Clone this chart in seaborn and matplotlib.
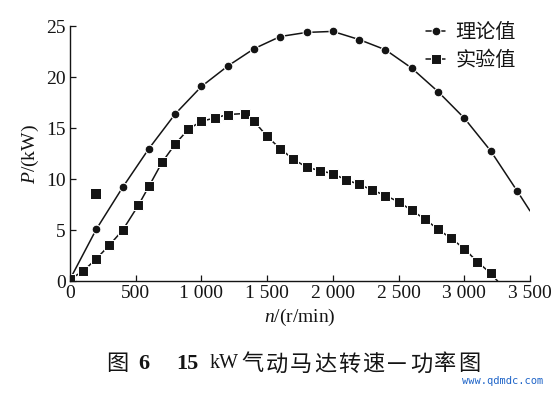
import matplotlib
matplotlib.use("Agg")
import matplotlib.pyplot as plt
import seaborn as sns

# theoretical power curve (last entry is the end of the drawn curve, no marker)
theory_rpm = [0, 200, 400, 600, 800, 1000, 1200, 1400, 1600, 1800, 2000, 2200, 2400, 2600, 2800, 3000, 3200, 3400, 3500]
theory_kw = [0.2, 5.1, 9.2, 13.0, 16.4, 19.1, 21.1, 22.8, 24.0, 24.4, 24.5, 23.7, 22.7, 20.9, 18.6, 16.0, 12.8, 8.9, 6.9]

# experimental power (last entry is the end of the drawn curve, no marker)
test_rpm = [0, 100, 200, 300, 400, 520, 600, 700, 800, 900, 1000, 1100, 1200, 1330, 1400, 1500, 1600, 1700,
            1800, 1900, 2000, 2100, 2200, 2300, 2400, 2500, 2600, 2700, 2800, 2900, 3000, 3100, 3200, 3255]
test_kw = [0.2, 1.0, 2.2, 3.55, 5.0, 7.45, 9.3, 11.65, 13.45, 14.9, 15.7, 16.0, 16.35, 16.45, 15.7, 14.2, 13.0, 11.95,
           11.2, 10.85, 10.55, 9.95, 9.5, 8.95, 8.4, 7.8, 6.95, 6.1, 5.1, 4.2, 3.2, 1.9, 0.8, 0.0]

# stray experimental point
stray_rpm = [200]
stray_kw = [8.6]

x_ticks = [0, 500, 1000, 1500, 2000, 2500, 3000, 3500]
x_labels = ["0", "500", "1 000", "1 500", "2 000", "2 500", "3 000", "3 500"]
y_ticks = [0, 5, 10, 15, 20, 25]

caption_cn = "气动马达转速—功率图"

sns.set_style("ticks")
plt.rcParams["font.family"] = ["Liberation Serif", "Noto Sans CJK SC"]
plt.rcParams["mathtext.fontset"] = "custom"
plt.rcParams["mathtext.rm"] = "Liberation Serif"
plt.rcParams["mathtext.it"] = "Liberation Serif:italic"

ink = "#141414"
W, H = 556, 397
fig = plt.figure(figsize=(W / 100, H / 100), dpi=100)
ax = fig.add_axes([70 / W, 1 - 281.3 / H, 460 / W, 255 / H])

sns.lineplot(x=theory_rpm, y=theory_kw, ax=ax, color=ink, lw=1.1, marker="o", ms=6.3,
             markevery=slice(0, len(theory_rpm) - 1), label="理论值", sort=False)
sns.lineplot(x=test_rpm, y=test_kw, ax=ax, color=ink, lw=1.1, marker="s", ms=6.5,
             markevery=slice(0, len(test_rpm) - 1), label="实验值", sort=False)
sns.scatterplot(x=stray_rpm, y=stray_kw, ax=ax, color=ink, marker="s", s=44, linewidth=0)

ax.set_xlim(0, 3500)
ax.set_ylim(0, 25)
ax.set_xticks(x_ticks)
ax.set_xticklabels(x_labels)
ax.set_yticks(y_ticks)
ax.tick_params(direction="in", length=4, width=0.9, labelsize=14, colors=ink, pad=3)
for side in ["left", "bottom"]:
    ax.spines[side].set_color(ink)
    ax.spines[side].set_linewidth(1.0)
sns.despine(ax=ax)

ax.set_xlabel("$n$/(r/min)", fontsize=14, color=ink, labelpad=3)
ax.set_ylabel("$P$/(kW)", fontsize=14, color=ink, labelpad=4)

leg = ax.legend(loc="upper left", bbox_to_anchor=(0.774, 1.015), frameon=False,
                handlelength=0.95, handletextpad=0.5, labelspacing=0.32, borderpad=0, borderaxespad=0,
                prop={"family": ["Noto Sans CJK SC"], "size": 14.5})
for t in leg.get_texts():
    t.set_color(ink)

# caption
cy = 1 - 364 / H
fig.text(106 / W, cy, "图", family=["Noto Sans CJK SC"], fontsize=16, color=ink, va="center")
fig.text(138 / W, cy, "6", fontsize=16, fontweight="bold", color=ink, va="center")
fig.text(176 / W, cy, "15", fontsize=16, fontweight="bold", color=ink, va="center")
fig.text(210 / W, cy, "kW", fontsize=14.5, color=ink, va="center")
for i, ch in enumerate(caption_cn):
    fig.text((253 + 24 * i) / W, cy, ch, family=["Noto Sans CJK SC"], fontsize=16, color=ink,
             va="center", ha="center")
fig.text(462 / W, 1 - 381 / H, "www.qdmdc.com", family=["DejaVu Sans Mono"], fontsize=7.5,
         color="#1e64c8", va="center")

fig.savefig("out.png", dpi=100)
